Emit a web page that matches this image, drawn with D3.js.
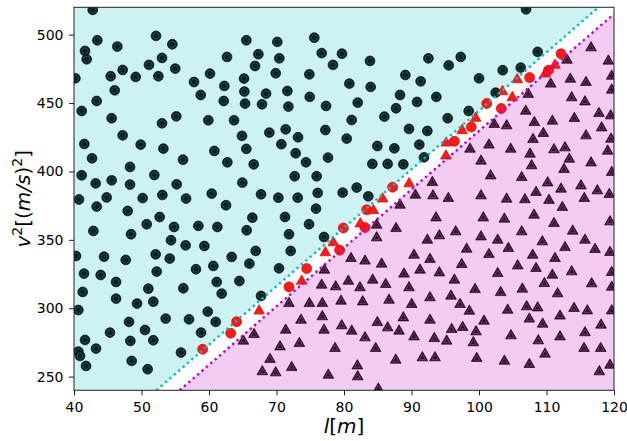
<!DOCTYPE html>
<html><head><meta charset="utf-8">
<script src="https://cdn.jsdelivr.net/npm/d3@7"></script>
<style>body{margin:0;background:#fff}svg{display:block}text{font-family:"DejaVu Sans",sans-serif}</style>
</head><body><svg id="c" width="627" height="441"></svg>
<script>
// ---- data ----
const xTicks = [40, 50, 60, 70, 80, 90, 100, 110, 120];
const yTicks = [250, 300, 350, 400, 450, 500];
const xDomain = [40, 120];
const yDomain = [240, 520];
// margin boundaries (l, v²)
const cyanLine = [[52.2, 240], [117.7, 520]];
const magentaLine = [[55.65, 240], [120, 515.1]];

const blueCircles = [
[42.77,518.1],[43.46,495.9],[41.63,488.1],[41.88,482.0],[46.42,491.3],[52.15,499.1],[54.57,493.0],[53.04,483.0],
[51.11,477.9],[55.0,475.2],[52.5,469.6],[47.21,474.2],[45.43,469.6],[49.14,469.1],[40.2,468.1],[46.03,459.3],
[43.36,451.5],[41.14,444.2],[45.58,438.9],[53.04,435.2],[55.16,440.3],[57.78,465.4],[58.77,455.9],[47.21,426.4],
[49.88,419.6],[41.53,420.1],[53.24,416.7],[42.67,409.6],[56.15,408.6],[48.3,403.3],[41.14,397.2],[51.9,397.4],
[43.21,391.3],[45.58,393.5],[48.3,390.4],[55.21,390.6],[40.74,379.5],[44.84,381.0],[50.17,380.5],[53.09,382.8],[56.6,380.2],
[65.53,495.9],[70.12,494.7],[75.6,497.8],[62.67,483.7],[67.31,485.7],[70.42,482.7],[76.7,486.5],[79.7,486.1],
[66.82,477.1],[78.37,477.9],[60.15,471.5],[65.19,467.9],[69.88,471.8],[74.87,471.0],[62.27,462.5],[65.24,458.4],
[68.45,456.9],[71.61,458.8],[74.92,454.5],[62.18,451.5],[65.34,449.6],[67.85,449.1],[71.76,447.4],[77.34,447.9],
[59.9,437.4],[63.71,437.4],[64.89,426.0],[68.94,428.4],[71.36,430.8],[73.19,425.0],[70.72,419.9],[65.53,416.5],
[77.24,430.3],[60.79,415.0],[72.84,413.3],[74.37,406.7],[77.63,410.1],[62.72,406.7],[66.62,405.2],[64.94,391.8],
[72.69,396.5],[75.95,396.5],[60.4,383.8],[67.71,383.3],[70.27,380.8],[73.14,380.8],[76.1,384.3],
[83.85,480.8],[92.5,482.7],[95.51,477.6],[97.29,483.7],[89.09,470.5],[91.36,465.9],[80.79,464.2],[83.95,461.8],
[100.0,468.1],[88.3,455.9],[93.68,454.5],[82.03,450.3],[87.71,446.2],[90.82,450.8],[85.98,440.1],[81.14,437.6],
[95.36,438.9],[98.47,444.2],[89.63,431.1],[92.35,429.6],[80.4,424.0],[84.94,418.6],[87.46,416.9],[91.16,419.6],
[84.2,405.5],[86.47,405.5],[88.79,405.2],[91.85,410.3],[79.8,384.5],[81.88,388.2],[83.6,381.8],
[106.97,518.5],[108.69,487.4],[103.51,474.0],[106.18,475.9],[102.47,457.6],
[43.36,374.3],[47.95,371.1],[52.69,366.7],[50.77,361.4],[42.87,356.5],[48.45,354.1],[54.82,359.4],[58.42,360.2],
[54.37,349.7],[56.54,346.0],[59.31,345.5],[40.3,338.2],[44.45,337.7],[47.66,335.3],[52.1,339.4],[54.18,336.3],
[41.48,325.3],[43.95,324.3],[52.25,326.8],[58.07,328.5],[46.23,319.2],[41.29,311.9],[51.01,314.3],[56.2,314.6],
[46.23,307.0],[49.34,303.4],[51.75,304.8],[40.64,298.7],[53.58,292.4],[57.04,291.9],[48.15,290.0],[45.33,282.2],
[50.52,284.1],[58.82,282.2],[41.63,276.8],[48.35,276.1],[51.75,276.6],[43.26,270.5],[40.64,268.3],[40.89,265.1],
[55.85,267.6],[48.55,261.5],[41.78,257.8],[50.91,255.4],
[62.52,375.3],[66.42,366.2],[71.26,366.7],[75.85,372.8],[61.24,359.4],[65.58,357.0],[74.82,361.4],[71.85,354.1],
[63.36,337.5],[66.92,341.9],[72.1,341.9],[77.04,352.1],[60.64,330.9],[65.98,332.6],[70.37,329.2],[61.14,319.2],
[64.5,319.9],[61.88,310.7],[67.71,309.0],[59.81,297.5],[60.99,290.0]
];

const magentaTriangles = [
[98.67,416.9],[93.09,392.6],[90.57,383.3],[93.19,382.8],[95.46,380.9],
[116.6,491.0],[119.16,481.3],[113.04,482.0],[119.66,470.3],[113.53,468.1],[115.85,465.7],[110.62,464.5],[119.66,460.1],
[113.73,454.5],[115.7,451.5],[106.92,444.7],[117.78,443.0],[119.51,441.3],[114.13,439.4],[110.87,437.4],[108.2,436.4],
[102.26,435.0],[104.1,434.0],[118.17,432.5],[109.53,428.4],[115.85,426.7],[108.0,424.0],[119.56,424.2],[101.48,419.9],
[104.7,416.9],[111.11,416.5],[112.74,417.9],[119.06,415.5],[107.56,413.3],[113.38,409.6],[116.6,406.9],[100.3,408.2],
[107.8,404.8],[112.6,402.1],[101.73,397.4],[106.33,396.2],[119.66,399.9],[110.17,392.3],[115.11,390.1],[117.53,386.5],
[112.15,387.7],[108.45,385.3],[100.3,382.8],[104.1,380.4],[106.8,380.0],[110.37,379.5],[115.6,380.9],[119.3,383.8],
[107.3,457.0],
[77.09,328.5],[76.69,317.5],[78.77,316.3],[71.85,304.1],[74.87,304.1],[76.79,304.1],[76.79,294.4],[73.63,291.9],
[77.04,284.6],[71.36,284.6],[66.67,281.4],[65.09,276.6],[73.39,274.9],[70.52,272.4],[78.67,271.2],[69.04,263.2],
[72.25,257.3],[67.9,254.2],[69.88,253.4],[77.68,251.7],
[88.3,376.0],[84.84,361.4],[84.84,352.1],[87.71,358.9],[93.63,366.7],[94.13,353.6],[96.55,356.5],[92.35,350.4],
[98.17,343.8],[81.04,337.0],[83.11,335.1],[85.58,332.9],[90.37,339.4],[92.74,336.3],[97.44,332.6],[88.89,325.6],
[91.26,328.5],[94.13,326.5],[96.35,321.2],[80.64,320.4],[84.25,321.2],[82.37,315.6],[86.18,318.0],[89.63,315.6],
[99.41,314.3],[79.56,305.8],[82.77,305.3],[86.67,306.5],[90.03,303.4],[92.74,308.3],[95.85,309.5],[97.19,303.4],
[98.57,298.5],[88.79,293.6],[84.94,290.2],[79.66,287.8],[81.14,283.9],[86.47,286.3],[88.15,283.9],[92.74,291.9],
[95.95,285.1],[97.58,286.6],[99.56,283.4],[83.11,279.0],[90.37,279.7],[93.38,278.5],[95.21,276.6],[99.16,275.4],
[84.69,271.2],[87.66,262.7],[91.61,264.4],[93.48,264.4],[99.66,263.9],[81.98,258.5],[82.03,250.5],[85.09,241.5],
[112.35,374.3],[100.64,366.7],[103.76,365.8],[108.15,368.7],[111.11,362.6],[119.41,363.8],[100.3,352.8],[102.77,350.4],
[106.33,356.5],[109.38,349.2],[113.88,357.0],[115.7,350.4],[104.35,344.3],[101.48,339.9],[107.95,339.4],[112.74,345.0],
[117.19,343.6],[119.41,341.4],[111.26,337.0],[105.73,331.6],[108.45,329.7],[102.77,326.0],[110.87,324.8],[113.73,327.3],
[119.66,326.8],[109.68,318.7],[103.21,312.1],[106.42,314.6],[111.65,311.2],[116.69,318.5],[119.66,316.0],[104.25,299.2],
[107.06,301.7],[108.69,300.9],[114.08,300.5],[116.05,298.7],[119.66,298.7],[107.46,292.7],[112.0,294.9],[109.43,289.0],
[100.74,291.2],[118.08,288.3],[104.74,280.5],[108.79,276.8],[112.0,279.7],[115.7,282.7],[115.56,271.2],[118.03,271.2],
[109.78,267.1],[103.76,261.9],[107.46,259.5],[119.41,259.0],[117.83,254.2]
];

const redCircles = [
[59.06,270.0],[63.21,281.7],[64.1,290.2],[71.85,315.6],[74.47,329.0],[79.35,342.5],[79.9,358.6],[83.11,359.0],
[83.36,372.0],[87.2,388.5],[96.35,422.0],[98.85,432.5],[101.15,449.7],[103.3,446.0],[107.5,468.6],[110.3,474.0],[112.15,486.0]
];
const redTriangles = [
[67.43,298.6],[73.73,320.4],[77.24,341.2],[78.42,348.5],[82.42,362.3],[84.35,372.0],[85.73,380.5],[89.65,391.6],
[95.1,411.9],[95.15,421.4],[97.5,430.5],[99.5,439.5],[103.48,459.0],[104.94,454.6],[105.66,467.7],[109.8,471.9],[111.26,478.3]
];

// ---- chart ----
const svg = d3.select("#c");
const L = 74, R = 614, T = 7.3, B = 390.3;
const x = d3.scaleLinear().domain(xDomain).range([L, R]);
const y = d3.scaleLinear().domain(yDomain).range([B, T]);

svg.append("defs").append("clipPath").attr("id", "clip")
  .append("rect").attr("x", L).attr("y", T).attr("width", R - L).attr("height", B - T);

const g = svg.append("g").attr("clip-path", "url(#clip)");
g.append("rect").attr("x", L).attr("y", T).attr("width", R - L).attr("height", B - T).attr("fill", "#fff");

const poly = d3.line().x(d => x(d[0])).y(d => y(d[1]));
g.append("path").attr("fill", "#ccf2f2")
  .attr("d", poly([[xDomain[0], yDomain[0]], cyanLine[0], cyanLine[1], [xDomain[0], yDomain[1]]]) + "Z");
g.append("path").attr("fill", "#f2ccf2")
  .attr("d", poly([magentaLine[0], [xDomain[1], yDomain[0]], magentaLine[1]]) + "Z");

const triPath = d3.symbol().type(d3.symbolTriangle).size(50)();
const triInner = d3.symbol().type(d3.symbolTriangle).size(16)();

const bc = g.append("g").selectAll("g").data(blueCircles).join("g")
  .attr("transform", d => `translate(${x(d[0])},${y(d[1])})`);
bc.append("circle").attr("r", 4.9).attr("fill", "#082222").attr("stroke", "#031010").attr("stroke-width", 0.7);
bc.append("circle").attr("r", 3.1).attr("fill", "none").attr("stroke", "#345050").attr("stroke-width", 0.8);

const mt = g.append("g").selectAll("g").data(magentaTriangles).join("g")
  .attr("transform", d => `translate(${x(d[0])},${y(d[1]) + 0.8})`);
mt.append("path").attr("d", triPath).attr("fill", "#380a2c").attr("stroke", "#200418").attr("stroke-width", 0.7);
mt.append("path").attr("d", triInner).attr("fill", "none").attr("stroke", "#74466a").attr("stroke-width", 0.8);

g.append("g").selectAll("circle").data(redCircles).join("circle")
  .attr("cx", d => x(d[0])).attr("cy", d => y(d[1])).attr("r", 5)
  .attr("fill", "#ff1a1a").attr("stroke", "#e00000").attr("stroke-width", 0.7);
g.append("g").selectAll("path").data(redTriangles).join("path")
  .attr("transform", d => `translate(${x(d[0])},${y(d[1]) + 0.8})`)
  .attr("d", triPath).attr("fill", "#ff1a1a").attr("stroke", "#e00000").attr("stroke-width", 0.7);

g.append("path").attr("d", poly(cyanLine)).attr("stroke", "#00bfbf").attr("stroke-width", 2.4)
  .attr("stroke-dasharray", "2.4 3.4").attr("fill", "none");
g.append("path").attr("d", poly(magentaLine)).attr("stroke", "#bf00bf").attr("stroke-width", 2.4)
  .attr("stroke-dasharray", "2.4 3.4").attr("fill", "none");

const xa = svg.append("g").attr("transform", `translate(0,${B})`)
  .call(d3.axisBottom(x).tickValues(xTicks).tickSize(5).tickPadding(7).tickFormat(d3.format("d")));
const ya = svg.append("g").attr("transform", `translate(${L},0)`)
  .call(d3.axisLeft(y).tickValues(yTicks).tickSize(5).tickPadding(5.5).tickFormat(d3.format("d")));
[xa, ya].forEach(a => {
  a.select(".domain").remove();
  a.selectAll("text").attr("font-size", 14).attr("fill", "#000").attr("font-family", "DejaVu Sans");
  a.selectAll("line").attr("stroke", "#000").attr("stroke-width", 0.9);
});

svg.append("rect").attr("x", L).attr("y", T).attr("width", R - L).attr("height", B - T)
  .attr("fill", "none").attr("stroke", "#222").attr("stroke-width", 1);

const xl = svg.append("text").attr("x", (L + R) / 2).attr("y", 433).attr("text-anchor", "middle").attr("font-size", 20);
xl.append("tspan").attr("font-style", "italic").text("l");
xl.append("tspan").text("[");
xl.append("tspan").attr("font-style", "italic").text("m");
xl.append("tspan").text("]");

const yl = svg.append("text").attr("transform", `translate(30,${(T + B) / 2}) rotate(-90)`)
  .attr("text-anchor", "middle").attr("font-size", 20);
yl.append("tspan").attr("font-style", "italic").text("v");
yl.append("tspan").attr("font-size", 14).attr("dy", -8).text("2");
yl.append("tspan").attr("dy", 8).text("[(");
yl.append("tspan").attr("font-style", "italic").text("m/s");
yl.append("tspan").text(")");
yl.append("tspan").attr("font-size", 14).attr("dy", -8).text("2");
yl.append("tspan").attr("dy", 8).text("]");
</script></body></html>
